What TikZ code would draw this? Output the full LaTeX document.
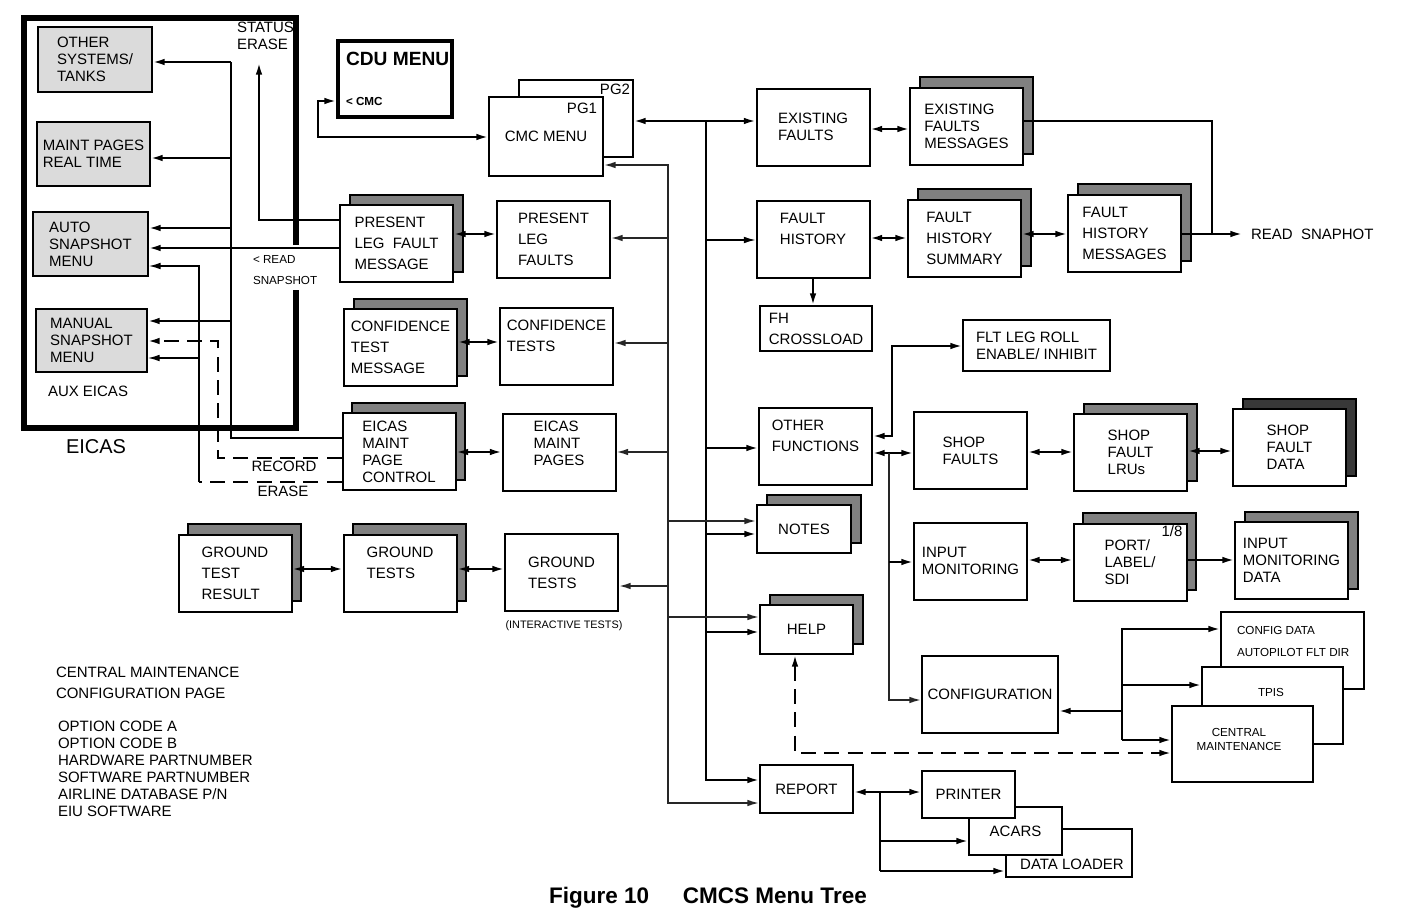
\documentclass[tikz,border=0pt]{standalone}
\usepackage{fontspec}
\setmainfont{Liberation Sans}
\usetikzlibrary{arrows.meta,shadows,positioning}

\begin{document}
\begin{tikzpicture}[x=0.6pt,y=-0.6pt,>={Latex[length=7pt,width=4pt]},line width=1.2pt]
    \tikzstyle{box}=[draw, fill=white, align=left, inner sep=2pt, font=\fontsize{9}{10.2}\selectfont]
    \tikzstyle{loose}=[font=\fontsize{9}{12.6}\selectfont]
    \tikzstyle{std}=[minimum width=67.8pt, minimum height=46.2pt]
    \tikzstyle{shad}=[copy shadow={shadow xshift=5.7pt, shadow yshift=6.3pt, fill=black!50, draw=black, line width=1.2pt}]
    \tikzstyle{eibox}=[box, fill=black!14]
    \tikzstyle{lbl}=[inner sep=0pt, align=left, font=\fontsize{9}{10.2}\selectfont]
    \tikzstyle{smalltxt}=[inner sep=0pt, align=left, font=\fontsize{7}{8.4}\selectfont]
    \tikzstyle{bus}=[line width=1pt, black!85]
    \tikzstyle{thinline}=[line width=0.7pt]
    \tikzstyle{dashline}=[dash pattern=on 9pt off 5pt]
    \useasboundingbox (0,0) rectangle (1424,917);

    % EICAS frame and its pages
    \draw[line width=3.6pt] (296,245) -- (296,18) -- (24,18) -- (24,428) -- (296,428) -- (296,290);
    \node[eibox, minimum width=68.4pt, minimum height=39pt] (ots) at (95,59.5) {OTHER\\SYSTEMS/\\TANKS};
    \node[eibox, minimum width=67.8pt, minimum height=38.4pt] (mpr) at (93.5,154) {MAINT PAGES\\REAL TIME};
    \node[eibox, minimum width=69pt, minimum height=38.4pt] (asm) at (90.5,244) {AUTO\\SNAPSHOT\\MENU};
    \node[eibox, minimum width=66.6pt, minimum height=37.8pt] (msm) at (91.5,340.5) {MANUAL\\SNAPSHOT\\MENU};
    \node[lbl, anchor=west] (aux) at (47,391) {AUX EICAS};
    \node[lbl, anchor=west, font=\fontsize{12}{14}\selectfont] (eic) at (65,447) {EICAS};
    \node[lbl, anchor=west] (ser) at (236,35.5) {STATUS\\ERASE};
    \node[smalltxt, anchor=west, font=\fontsize{7}{12.6}\selectfont] (rsn) at (252,270.5) {< READ\\SNAPSHOT};
    \node[lbl] (rec) at (284,466) {RECORD};
    \node[lbl] (era) at (283,491) {ERASE};

    % CDU and CMC menu
    \node[draw, line width=2.4pt, minimum width=68.4pt, minimum height=45.6pt] (cdu) at (395,79) {};
    \node[lbl, anchor=west, font=\bfseries\fontsize{11.5}{12}\selectfont] (cdut) at (345,59) {CDU MENU};
    \node[lbl, anchor=west, font=\bfseries\fontsize{7}{8}\selectfont] (cmcl) at (345,101) {< CMC};
    \node[box, minimum width=68.4pt, minimum height=46.2pt] (cmc2) at (576,118.5) {};
    \node[box, minimum width=68.4pt, minimum height=47.4pt] (cmc) at (546,136.5) {CMC MENU};
    \node[lbl] (pg2) at (615,89) {PG2};
    \node[lbl] (pg1) at (582,108) {PG1};

    % left pages
    \node[box, std, shad, loose] (plfm) at (396.5,243.5) {PRESENT\\LEG\ \ FAULT\\MESSAGE};
    \node[box, std, loose] (plf) at (553.5,239.5) {PRESENT\\LEG\\FAULTS};
    \node[box, std, shad, loose] (ctm) at (400.5,347.5) {CONFIDENCE\\TEST\\MESSAGE};
    \node[box, std, loose] (ct) at (556.5,346.5) {CONFIDENCE\\TESTS\\\mbox{}};
    \node[box, std, shad] (empc) at (399,451.5) {EICAS\\MAINT\\PAGE\\CONTROL};
    \node[box, std] (emp) at (559,452) {EICAS\\MAINT\\PAGES\\\mbox{}};
    \node[box, std, shad, loose] (gtr) at (235,573) {GROUND\\TEST\\RESULT};
    \node[box, std, shad, loose] (gts) at (400,573) {GROUND\\TESTS\\\mbox{}};
    \node[box, std, loose] (gti) at (561.5,572.5) {GROUND\\TESTS};
    \node[smalltxt, font=\fontsize{6.5}{8}\selectfont] (itl) at (564,626) {(INTERACTIVE TESTS)};

    % right pages
    \node[box, std] (exf) at (813,127) {EXISTING\\FAULTS};
    \node[box, std, shad] (exfm) at (966.5,126) {EXISTING\\FAULTS\\MESSAGES};
    \node[box, std, loose] (fh) at (813,239.5) {FAULT\\HISTORY\\\mbox{}};
    \node[box, std, shad, loose] (fhs) at (964.5,238) {FAULT\\HISTORY\\SUMMARY};
    \node[box, std, shad, loose] (fhm) at (1124.5,233) {FAULT\\HISTORY\\MESSAGES};
    \node[lbl, anchor=west] (rs) at (1250,234) {READ\ \ SNAPHOT};
    \node[box, minimum width=67.2pt, minimum height=27pt, loose] (fhc) at (816,328.5) {FH\\CROSSLOAD};
    \node[box, minimum width=88.2pt, minimum height=30.6pt] (flr) at (1036.5,345.5) {FLT LEG ROLL\\ENABLE/ INHIBIT};
    \node[box, std, loose] (of) at (815.5,446.5) {OTHER\\FUNCTIONS\\\mbox{}};
    \node[box, std] (sf) at (970.5,450.5) {SHOP\\FAULTS};
    \node[box, std, shad] (sfl) at (1130.5,452.5) {SHOP\\FAULT\\LRUs};
    \node[box, std, copy shadow={shadow xshift=5.7pt, shadow yshift=6.3pt, fill=black!78, draw=black, line width=1.2pt}] (sfd) at (1289.5,447.5) {SHOP\\FAULT\\DATA};
    \node[box, std] (im) at (970.5,561) {INPUT\\MONITORING};
    \node[box, std, shad] (pls) at (1130,562) {PORT/\\LABEL/\\SDI};
    \node[lbl] (p18) at (1172,531) {1/8};
    \node[box, std, shad] (imd) at (1291.5,560.5) {INPUT\\MONITORING\\DATA};
    \node[box, minimum width=81.6pt, minimum height=46.2pt] (conf) at (990,694.5) {CONFIGURATION};
    \node[box, minimum width=85.8pt, minimum height=46.2pt] (cfgd) at (1292.5,650.5) {};
    \node[box, minimum width=84.6pt, minimum height=46.2pt] (tpis) at (1272.5,705.5) {};
    \node[box, minimum width=84.6pt, minimum height=45.6pt] (cmnt) at (1242.5,744) {};
    \node[smalltxt, anchor=west, font=\fontsize{7}{13.2}\selectfont] (cfgdt) at (1236,641) {CONFIG DATA\\AUTOPILOT FLT DIR};
    \node[smalltxt] (tpist) at (1271,692) {TPIS};
    \node[smalltxt, align=center] (cmntt) at (1239,739) {CENTRAL\\MAINTENANCE};

    % notes, help, report
    \node[box, minimum width=56.4pt, minimum height=28.8pt, shad] (notes) at (804,529) {NOTES};
    \node[box, minimum width=55.8pt, minimum height=29.4pt, shad] (help) at (806.5,629.5) {HELP};
    \node[box, minimum width=55.8pt, minimum height=28.8pt] (rep) at (806.5,789) {REPORT};
    \node[box, minimum width=75.6pt, minimum height=28.8pt] (dl) at (1069,853) {};
    \node[box, minimum width=55.8pt, minimum height=28.8pt] (acars) at (1015.5,831) {ACARS};
    \node[box, minimum width=55.8pt, minimum height=28.2pt] (prn) at (968.5,794.5) {PRINTER};
    \node[lbl] (dlt) at (1072,864) {DATA LOADER};

    % configuration page text
    \node[lbl, anchor=west, font=\fontsize{9}{12.6}\selectfont] (cmcp) at (55,682.5) {CENTRAL MAINTENANCE\\CONFIGURATION PAGE};
    \node[lbl, anchor=west] (opts) at (57,769) {OPTION CODE A\\OPTION CODE B\\HARDWARE PARTNUMBER\\SOFTWARE PARTNUMBER\\AIRLINE DATABASE P/N\\EIU SOFTWARE};
    \node[inner sep=0pt, font=\bfseries\fontsize{13.5}{15}\selectfont] (cap) at (708,898) {Figure 10\hspace{1.5em}CMCS Menu Tree};

    % EICAS connections
    \coordinate (eb) at (231,62);
    \draw (empc.west |- 0,438) -| (eb);
    \foreach \b/\y in {ots/62, mpr/158, asm/228, msm/321}
        \draw[->] (eb |- 0,\y) -- (\b.east |- 0,\y);
    \coordinate (se) at (259,63);
    \draw[->] (plfm.west |- 0,220) -| (se);
    \draw[->] (plfm.west |- 0,248) -- (asm.east |- 0,248);
    \coordinate (er) at (199,482);
    \coordinate (rc) at (218,458);
    \draw[dashline] (empc.west |- er) -- (er);
    \draw[thinline,->] (er) |- (asm.east |- 0,266);
    \draw[thinline,->] (er |- 0,358) -- (msm.east |- 0,358);
    \draw[dashline,->] (empc.west |- rc) -- (rc) |- (msm.east |- 0,341);

    % CDU to CMC
    \coordinate (cd) at (318,101);
    \draw[<->] (cdu.west |- cd) -- (cd) |- (cmc.west |- 0,137);

    % CMC menu buses
    \coordinate (ba) at (706,121);
    \coordinate (bc) at (668,165);
    \draw[<->] (cmc2.east |- ba) -- (exf.west |- ba);
    \draw[->] (ba) |- (rep.west |- 0,780);
    \foreach \b/\y in {of/448, notes/534, help/632}
        \draw[->] (ba |- 0,\y) -- (\b.west |- 0,\y);
    \draw[thinline,->] (ba |- 0,240) -- (fh.west |- 0,240);
    \draw[bus,<->] (cmc.east |- bc) -- (bc) |- (rep.west |- 0,803);
    \foreach \b/\y in {plf/238, ct/343, emp/452, gti/586}
        \draw[bus,->] (bc |- 0,\y) -- (\b.east |- 0,\y);
    \foreach \b/\y in {notes/521, help/617}
        \draw[bus,->] (bc |- 0,\y) -- (\b.west |- 0,\y);

    % page to page
    \foreach \a/\b/\y in {plfm/plf/234, ctm/ct/342, empc/emp/452, gtr/gts/569, gts/gti/569,
                          exf/exfm/129, fh/fhs/238, fhs/fhm/234, sf/sfl/452, sfl/sfd/451, im/pls/560}
        \path[<->] (\a.east |- 0,\y) edge (\b.west |- 0,\y);
    \draw[->] (pls.east |- 0,560) -- (imd.west |- 0,560);
    \draw[->, shorten >=4.8pt] (fhm.east |- rs) -- (rs.west);
    \coordinate (jr) at (1212,121);
    \draw (exfm.east |- jr) -- (jr) -- (jr |- rs);
    \draw[->] (fh.south) -- (fh.south |- fhc.north);

    % other functions
    \coordinate (fl) at (892,346);
    \draw[<->] (of.east |- 0,436) -| (fl) -- (flr.west |- fl);
    \coordinate (ob) at (889,453);
    \draw[<->] (of.east |- ob) -- (sf.west |- ob);
    \draw[bus,->] (ob) |- (conf.west |- 0,700);
    \draw[->] (ob |- 0,562) -- (im.west |- 0,562);

    % configuration
    \coordinate (cj) at (1122,711);
    \draw[->] (cj) -- (conf.east |- cj);
    \draw[->] (cj |- 0,740) |- (cfgd.west |- 0,629);
    \draw[->] (cj |- 0,740) -- (cmnt.west |- 0,740);
    \draw[->] (cj |- 0,685) -- (tpis.west |- 0,685);
    \draw[dashline,<->] ([xshift=-6.9pt]help.south) |- (cmnt.west |- 0,753);

    % report
    \coordinate (rj) at (880,792);
    \draw[<->] (rep.east |- rj) -- (prn.west |- rj);
    \draw (rj) -- (rj |- 0,871);
    \draw[->] (rj |- 0,841) -- (acars.west |- 0,841);
    \draw[->] (rj |- 0,871) -- (dl.west |- 0,871);
\end{tikzpicture}
\end{document}
